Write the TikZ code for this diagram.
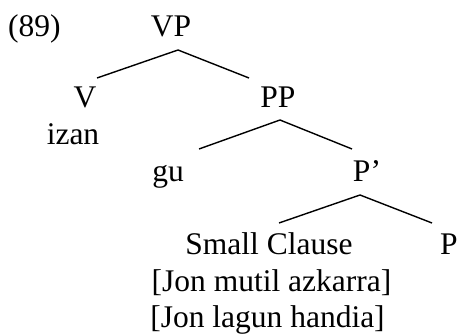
\documentclass[tikz,border=0pt]{standalone}
\usepackage{fontspec}
\setmainfont{Liberation Serif}
\begin{document}
\begin{tikzpicture}[x=1pt,y=-1pt,
  lbl/.style={inner sep=0pt, anchor=base, font=\fontsize{31.5}{36.5}\selectfont},
  branch/.style={line width=1.4pt}]
\useasboundingbox (0,0) rectangle (459,336);
% labels
\node[lbl, anchor=base west] (num) at (8,37) {(89)};
\node[lbl] (VP) at (171,37) {VP};
\node[lbl] (V) at (85,108) {V};
\node[lbl] (PP) at (278,108) {PP};
\node[lbl] (izan) at (73,145) {izan};
\node[lbl] (gu) at (168,182) {gu};
\node[lbl] (Pbar) at (367,182) {P’};
\node[lbl] (SC) at (269,255) {Small Clause};
\node[lbl] (P) at (449,255) {P};
\node[lbl] (ex1) at (271.5,292) {[Jon mutil azkarra]};
\node[lbl] (ex2) at (267.5,328) {[Jon lagun handia]};
% branch points
\coordinate (VPa) at (178,50);
\coordinate (Va) at (97,78);
\coordinate (PPa) at (249,78);
\coordinate (PPb) at (280,120);
\coordinate (gua) at (199,149);
\coordinate (Pbara) at (352,149);
\coordinate (Pbarb) at (360,195);
\coordinate (SCa) at (279,223);
\coordinate (Pa) at (432,223);
% branches
\draw[branch] (Va) -- (VPa) -- (PPa);
\draw[branch] (gua) -- (PPb) -- (Pbara);
\draw[branch] (SCa) -- (Pbarb) -- (Pa);
\end{tikzpicture}
\end{document}
